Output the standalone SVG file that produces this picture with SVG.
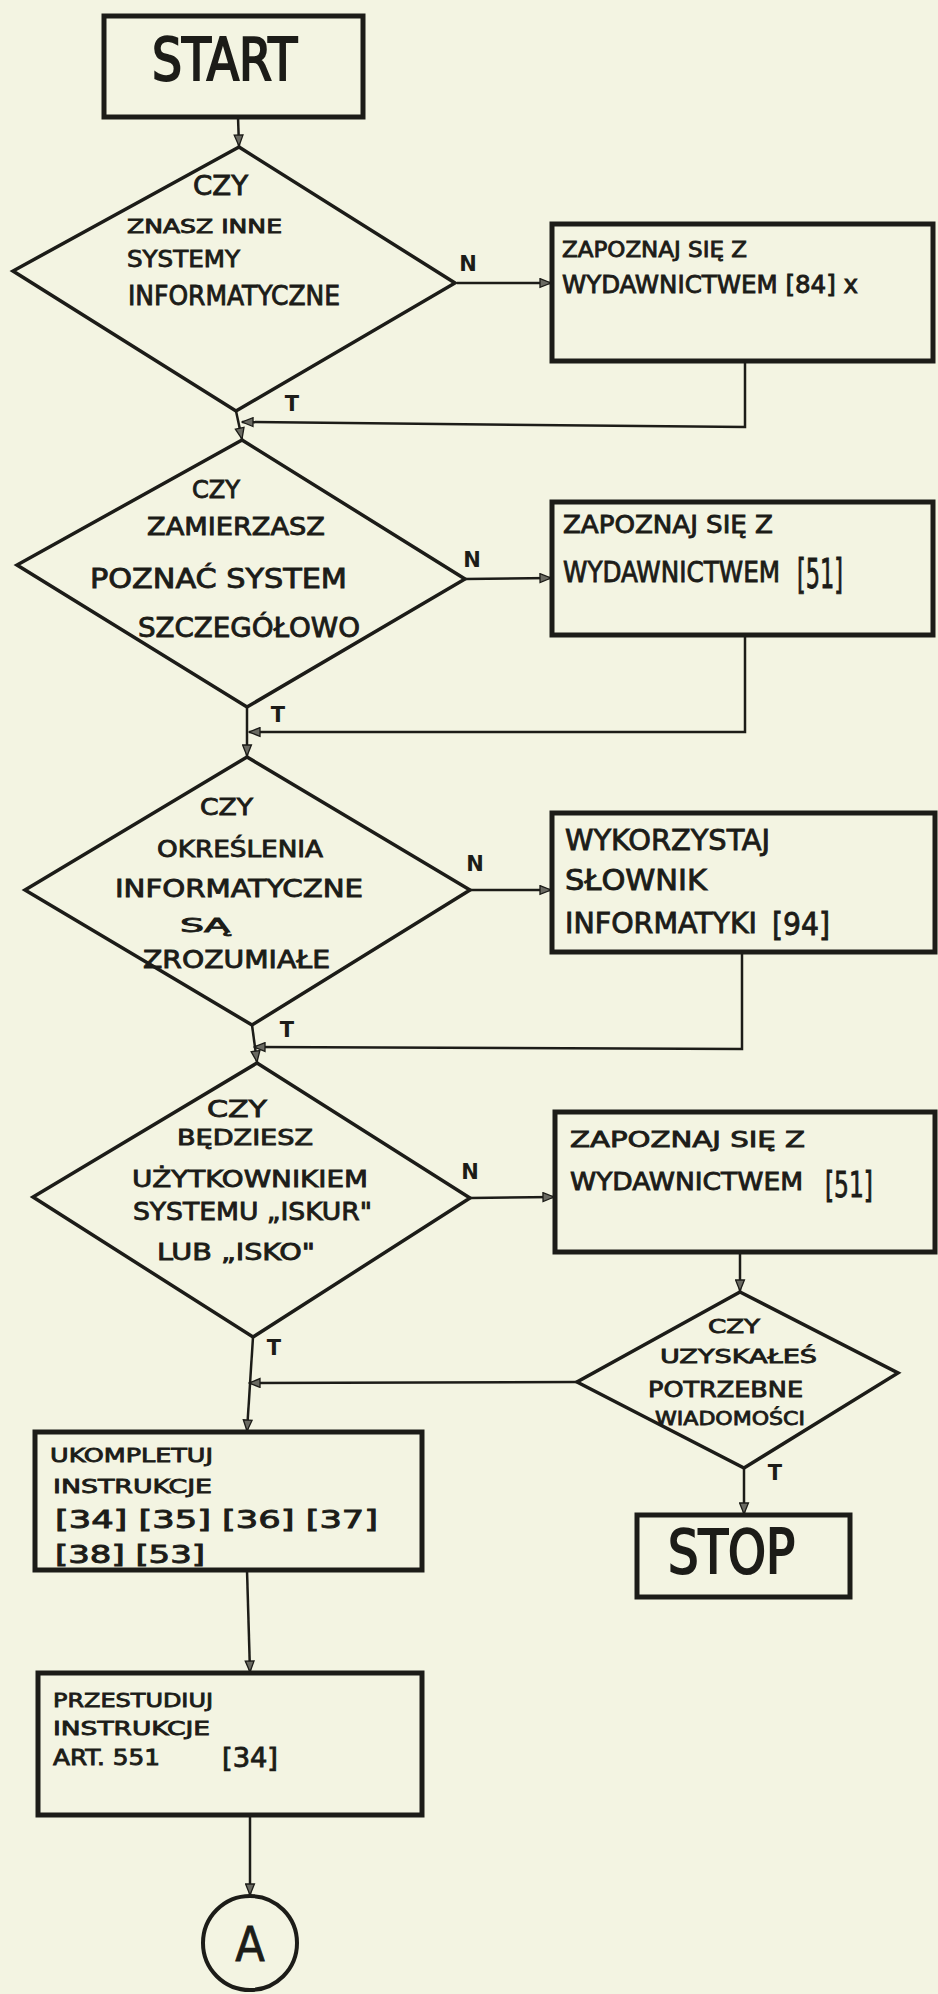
<svg xmlns="http://www.w3.org/2000/svg" width="938" height="1994" viewBox="0 0 938 1994">
<style>
.bg{fill:#f3f4e2}
.box{fill:none;stroke:#1c1c18;stroke-width:5;stroke-linejoin:miter}
.dia{fill:none;stroke:#1c1c18;stroke-width:3.5;stroke-linejoin:miter}
.con{fill:none;stroke:#1c1c18;stroke-width:2.5}
.t{font-family:"DejaVu Sans Condensed","DejaVu Sans",sans-serif;fill:#1c1c18;stroke:#1c1c18;stroke-width:0.8}
.big{stroke-width:2}
.lbl{font-family:"DejaVu Sans",sans-serif;font-weight:bold;font-size:21px;fill:#1c1c18;text-anchor:middle}
</style>
<defs>
<marker id="ah" viewBox="0 0 10 10" refX="10" refY="5" markerWidth="13" markerHeight="11" orient="auto" markerUnits="userSpaceOnUse">
<path d="M0,1 L10,5 L0,9 Z" fill="#6a6a62" stroke="#1c1c18" stroke-width="1.2"/>
</marker>
</defs>
<rect class="bg" x="0" y="0" width="938" height="1994"/>

<g id="connectors">
<path class="con" d="M238,117 L239,146" marker-end="url(#ah)"/>
<path class="con" d="M457,283 L551,283" marker-end="url(#ah)"/>
<path class="con" d="M745,361 L745,427 L242,422" marker-end="url(#ah)"/>
<path class="con" d="M236,411 L242,439" marker-end="url(#ah)"/>
<path class="con" d="M465,579 L551,578" marker-end="url(#ah)"/>
<path class="con" d="M745,635 L745,732 L249,732" marker-end="url(#ah)"/>
<path class="con" d="M247,707 L247,756" marker-end="url(#ah)"/>
<path class="con" d="M470,890 L551,890" marker-end="url(#ah)"/>
<path class="con" d="M742,952 L742,1049 L254,1047" marker-end="url(#ah)"/>
<path class="con" d="M252,1025 L257,1062" marker-end="url(#ah)"/>
<path class="con" d="M470,1198 L554,1197" marker-end="url(#ah)"/>
<path class="con" d="M740,1252 L740,1291" marker-end="url(#ah)"/>
<path class="con" d="M744,1468 L744,1514" marker-end="url(#ah)"/>
<path class="con" d="M577,1382 L249,1383" marker-end="url(#ah)"/>
<path class="con" d="M253,1337 L247,1431" marker-end="url(#ah)"/>
<path class="con" d="M247,1570 L250,1672" marker-end="url(#ah)"/>
<path class="con" d="M250,1815 L250,1895" marker-end="url(#ah)"/>
<text class="lbl" x="468" y="271">N</text>
<text class="lbl" x="292" y="411">T</text>
<text class="lbl" x="472" y="567">N</text>
<text class="lbl" x="278" y="722">T</text>
<text class="lbl" x="475" y="871">N</text>
<text class="lbl" x="287" y="1037">T</text>
<text class="lbl" x="470" y="1179">N</text>
<text class="lbl" x="274" y="1355">T</text>
<text class="lbl" x="775" y="1480">T</text>
</g>

<g id="start">
<rect class="box" x="104" y="16" width="259" height="101"/>
<text class="t big" x="152" y="80" font-size="58" textLength="145" lengthAdjust="spacingAndGlyphs">START</text>
</g>

<g id="d1">
<polygon class="dia" points="239,147 455,283 236,411 13,271"/>
<text class="t" x="193" y="195" font-size="26" textLength="55" lengthAdjust="spacingAndGlyphs">CZY</text>
<text class="t" x="127" y="233" font-size="19" textLength="155" lengthAdjust="spacingAndGlyphs">ZNASZ INNE</text>
<text class="t" x="127" y="267" font-size="23" textLength="113" lengthAdjust="spacingAndGlyphs">SYSTEMY</text>
<text class="t" x="128" y="305" font-size="26" textLength="212" lengthAdjust="spacingAndGlyphs">INFORMATYCZNE</text>
</g>

<g id="b1">
<rect class="box" x="552" y="224" width="381" height="137"/>
<text class="t" x="562" y="257" font-size="22" textLength="185" lengthAdjust="spacingAndGlyphs">ZAPOZNAJ SIĘ Z</text>
<text class="t" x="562" y="293" font-size="24" textLength="296" lengthAdjust="spacingAndGlyphs">WYDAWNICTWEM [84] x</text>
</g>

<g id="d2">
<polygon class="dia" points="242,440 465,579 247,707 17,565"/>
<text class="t" x="192" y="498" font-size="24" textLength="48" lengthAdjust="spacingAndGlyphs">CZY</text>
<text class="t" x="147" y="535" font-size="24" textLength="178" lengthAdjust="spacingAndGlyphs">ZAMIERZASZ</text>
<text class="t" x="90" y="588" font-size="26" textLength="257" lengthAdjust="spacingAndGlyphs">POZNAĆ SYSTEM</text>
<text class="t" x="138" y="637" font-size="26" textLength="222" lengthAdjust="spacingAndGlyphs">SZCZEGÓŁOWO</text>
</g>

<g id="b2">
<rect class="box" x="552" y="502" width="381" height="133"/>
<text class="t" x="563" y="533" font-size="24" textLength="210" lengthAdjust="spacingAndGlyphs">ZAPOZNAJ SIĘ Z</text>
<text class="t" x="563" y="582" font-size="28" textLength="217" lengthAdjust="spacingAndGlyphs">WYDAWNICTWEM</text>
<text class="t" x="797" y="588" font-size="40" textLength="46" lengthAdjust="spacingAndGlyphs">[51]</text>
</g>

<g id="d3">
<polygon class="dia" points="247,757 470,890 252,1025 25,890"/>
<text class="t" x="200" y="815" font-size="23" textLength="53" lengthAdjust="spacingAndGlyphs">CZY</text>
<text class="t" x="157" y="857" font-size="23" textLength="166" lengthAdjust="spacingAndGlyphs">OKREŚLENIA</text>
<text class="t" x="115" y="897" font-size="24" textLength="248" lengthAdjust="spacingAndGlyphs">INFORMATYCZNE</text>
<text class="t" x="180" y="932" font-size="20" textLength="50" lengthAdjust="spacingAndGlyphs">SĄ</text>
<text class="t" x="143" y="968" font-size="24" textLength="187" lengthAdjust="spacingAndGlyphs">ZROZUMIAŁE</text>
</g>

<g id="b3">
<rect class="box" x="552" y="813" width="383" height="139"/>
<text class="t" x="565" y="850" font-size="28" textLength="205" lengthAdjust="spacingAndGlyphs">WYKORZYSTAJ</text>
<text class="t" x="565" y="890" font-size="28" textLength="142" lengthAdjust="spacingAndGlyphs">SŁOWNIK</text>
<text class="t" x="565" y="933" font-size="28" textLength="192" lengthAdjust="spacingAndGlyphs">INFORMATYKI</text>
<text class="t" x="772" y="935" font-size="32" textLength="58" lengthAdjust="spacingAndGlyphs">[94]</text>
</g>

<g id="d4">
<polygon class="dia" points="257,1063 470,1198 253,1337 33,1197"/>
<text class="t" x="207" y="1117" font-size="23" textLength="60" lengthAdjust="spacingAndGlyphs">CZY</text>
<text class="t" x="177" y="1145" font-size="21" textLength="136" lengthAdjust="spacingAndGlyphs">BĘDZIESZ</text>
<text class="t" x="132" y="1187" font-size="23" textLength="236" lengthAdjust="spacingAndGlyphs">UŻYTKOWNIKIEM</text>
<text class="t" x="133" y="1220" font-size="24" textLength="239" lengthAdjust="spacingAndGlyphs">SYSTEMU „ISKUR"</text>
<text class="t" x="157" y="1260" font-size="23" textLength="158" lengthAdjust="spacingAndGlyphs">LUB „ISKO"</text>
</g>

<g id="b4">
<rect class="box" x="555" y="1112" width="380" height="140"/>
<text class="t" x="570" y="1147" font-size="22" textLength="235" lengthAdjust="spacingAndGlyphs">ZAPOZNAJ SIĘ Z</text>
<text class="t" x="570" y="1190" font-size="24" textLength="233" lengthAdjust="spacingAndGlyphs">WYDAWNICTWEM</text>
<text class="t" x="825" y="1197" font-size="36" textLength="48" lengthAdjust="spacingAndGlyphs">[51]</text>
</g>

<g id="d5">
<polygon class="dia" points="740,1292 898,1373 744,1468 577,1382"/>
<text class="t" x="708" y="1333" font-size="20" textLength="52" lengthAdjust="spacingAndGlyphs">CZY</text>
<text class="t" x="660" y="1363" font-size="20" textLength="157" lengthAdjust="spacingAndGlyphs">UZYSKAŁEŚ</text>
<text class="t" x="648" y="1397" font-size="21" textLength="155" lengthAdjust="spacingAndGlyphs">POTRZEBNE</text>
<text class="t" x="655" y="1425" font-size="20" textLength="150" lengthAdjust="spacingAndGlyphs">WIADOMOŚCI</text>
</g>

<g id="stop">
<rect class="box" x="637" y="1515" width="213" height="82"/>
<text class="t big" x="668" y="1573" font-size="60" textLength="127" lengthAdjust="spacingAndGlyphs">STOP</text>
</g>

<g id="b5">
<rect class="box" x="35" y="1432" width="387" height="138"/>
<text class="t" x="50" y="1462" font-size="20" textLength="163" lengthAdjust="spacingAndGlyphs">UKOMPLETUJ</text>
<text class="t" x="53" y="1493" font-size="20" textLength="159" lengthAdjust="spacingAndGlyphs">INSTRUKCJE</text>
<text class="t" x="55" y="1528" font-size="24" textLength="323" lengthAdjust="spacingAndGlyphs">[34] [35] [36] [37]</text>
<text class="t" x="55" y="1563" font-size="24" textLength="150" lengthAdjust="spacingAndGlyphs">[38] [53]</text>
</g>

<g id="b6">
<rect class="box" x="38" y="1673" width="384" height="142"/>
<text class="t" x="53" y="1707" font-size="20" textLength="160" lengthAdjust="spacingAndGlyphs">PRZESTUDIUJ</text>
<text class="t" x="53" y="1735" font-size="20" textLength="157" lengthAdjust="spacingAndGlyphs">INSTRUKCJE</text>
<text class="t" x="53" y="1765" font-size="22" textLength="107" lengthAdjust="spacingAndGlyphs">ART. 551</text>
<text class="t" x="222" y="1767" font-size="26" textLength="56" lengthAdjust="spacingAndGlyphs">[34]</text>
</g>

<g id="connA">
<circle cx="250" cy="1943" r="47" fill="none" stroke="#1c1c18" stroke-width="4"/>
<text class="t" x="250" y="1961" font-size="48" text-anchor="middle">A</text>
</g>
</svg>
